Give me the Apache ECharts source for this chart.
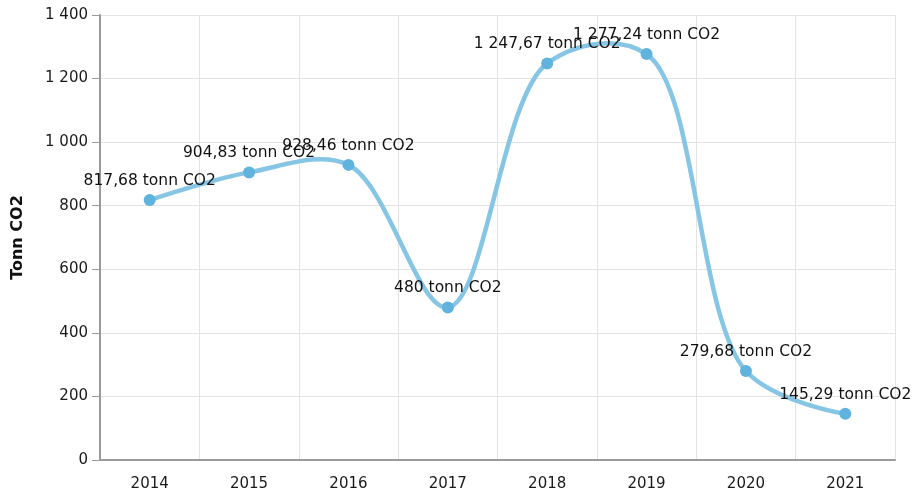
<!DOCTYPE html>
<html>
<head>
<meta charset="utf-8">
<script src="https://cdn.jsdelivr.net/npm/echarts@6/dist/echarts.min.js"></script>
<style>
  html, body { margin: 0; padding: 0; background: #fff; }
  #chart { width: 914px; height: 499px; }
</style>
</head>
<body>
<div id="chart"></div>
<script>
  var years = ['2014', '2015', '2016', '2017', '2018', '2019', '2020', '2021'];
  var emissions = [817.68, 904.83, 928.46, 480, 1247.67, 1277.24, 279.68, 145.29];
  var unit = 'tonn CO2';

  // norsk tallformat: mellomrom som tusenskille, komma som desimaltegn
  function fmt(v) {
    var parts = String(v).split('.');
    var int = parts[0].replace(/\B(?=(\d{3})+(?!\d))/g, ' ');
    return parts.length > 1 ? int + ',' + parts[1] : int;
  }

  var chart = echarts.init(document.getElementById('chart'));
  var font = 'DejaVu Sans, Verdana, sans-serif';
  var lineColor = '#86c5e4';
  var dotColor = '#5fb3dc';

  // sentripetal catmull-rom (alpha 0.5), ett segment per datapunkt
  function renderSegment(params, api) {
    var i = params.dataIndex;
    var n = emissions.length;
    if (i >= n - 1) return null;
    var pt = function (j) { return api.coord([j, emissions[j]]); };
    var p1 = pt(i), p2 = pt(i + 1);
    var p0 = i > 0 ? pt(i - 1) : p1;
    var p3 = i + 2 < n ? pt(i + 2) : p2;
    var d = function (a, b) { return Math.pow((a[0] - b[0]) * (a[0] - b[0]) + (a[1] - b[1]) * (a[1] - b[1]), 0.5); };
    var l01_2a = d(p0, p1), l12_2a = d(p1, p2), l23_2a = d(p2, p3);
    var l01_a = Math.sqrt(l01_2a), l12_a = Math.sqrt(l12_2a), l23_a = Math.sqrt(l23_2a);
    var c1 = p1.slice(), c2 = p2.slice();
    if (l01_a > 1e-6) {
      var a = 2 * l01_2a + 3 * l01_a * l12_a + l12_2a;
      var m = 3 * l01_a * (l01_a + l12_a);
      c1 = [(p1[0] * a - p0[0] * l12_2a + p2[0] * l01_2a) / m,
            (p1[1] * a - p0[1] * l12_2a + p2[1] * l01_2a) / m];
    }
    if (l23_a > 1e-6) {
      var b = 2 * l23_2a + 3 * l23_a * l12_a + l12_2a;
      var k = 3 * l23_a * (l23_a + l12_a);
      c2 = [(p2[0] * b + p1[0] * l23_2a - p3[0] * l12_2a) / k,
            (p2[1] * b + p1[1] * l23_2a - p3[1] * l12_2a) / k];
    }
    return {
      type: 'bezierCurve',
      shape: { x1: p1[0], y1: p1[1], x2: p2[0], y2: p2[1], cpx1: c1[0], cpy1: c1[1], cpx2: c2[0], cpy2: c2[1] },
      style: { stroke: lineColor, lineWidth: 4.5, fill: null, lineCap: 'round' }
    };
  }

  var option = {
    animation: false,
    grid: { left: 100, right: 19, top: 15, bottom: 39 },
    xAxis: {
      type: 'category',
      data: years,
      boundaryGap: true,
      axisLine: { lineStyle: { color: '#9a9a9a', width: 2 } },
      axisTick: { alignWithLabel: true, length: 6, lineStyle: { color: '#9a9a9a' } },
      axisLabel: { color: '#1a1a1a', fontSize: 15, fontFamily: font, margin: 17 },
      splitLine: { show: true, lineStyle: { color: '#e3e3e3' } }
    },
    yAxis: {
      type: 'value',
      min: 0,
      max: 1400,
      interval: 200,
      name: 'Tonn CO2',
      nameLocation: 'middle',
      nameGap: 74,
      nameTextStyle: { color: '#111', fontSize: 16, fontWeight: 'bold', fontFamily: font },
      axisLine: { show: true, lineStyle: { color: '#9a9a9a', width: 2 } },
      axisTick: { show: true, length: 8, lineStyle: { color: '#9a9a9a' } },
      axisLabel: { color: '#1a1a1a', fontSize: 15, fontFamily: font, margin: 12, formatter: fmt },
      splitLine: { show: true, lineStyle: { color: '#e3e3e3' } }
    },
    series: [{
      type: 'custom',
      renderItem: renderSegment,
      data: emissions.map(function (v, i) { return [i, v]; }),
      encode: { x: 0, y: 1 },
      z: 2
    }, {
      type: 'scatter',
      data: emissions,
      symbol: 'circle',
      symbolSize: 12,
      itemStyle: { color: dotColor, opacity: 1 },
      z: 3,
      label: {
        show: true,
        position: 'top',
        distance: 5,
        color: '#111',
        fontSize: 15.5,
        fontFamily: font,
        formatter: function (p) { return fmt(p.value) + ' ' + unit; }
      }
    }]
  };

  chart.setOption(option);
  window.addEventListener('resize', chart.resize);
</script>
</body>
</html>
